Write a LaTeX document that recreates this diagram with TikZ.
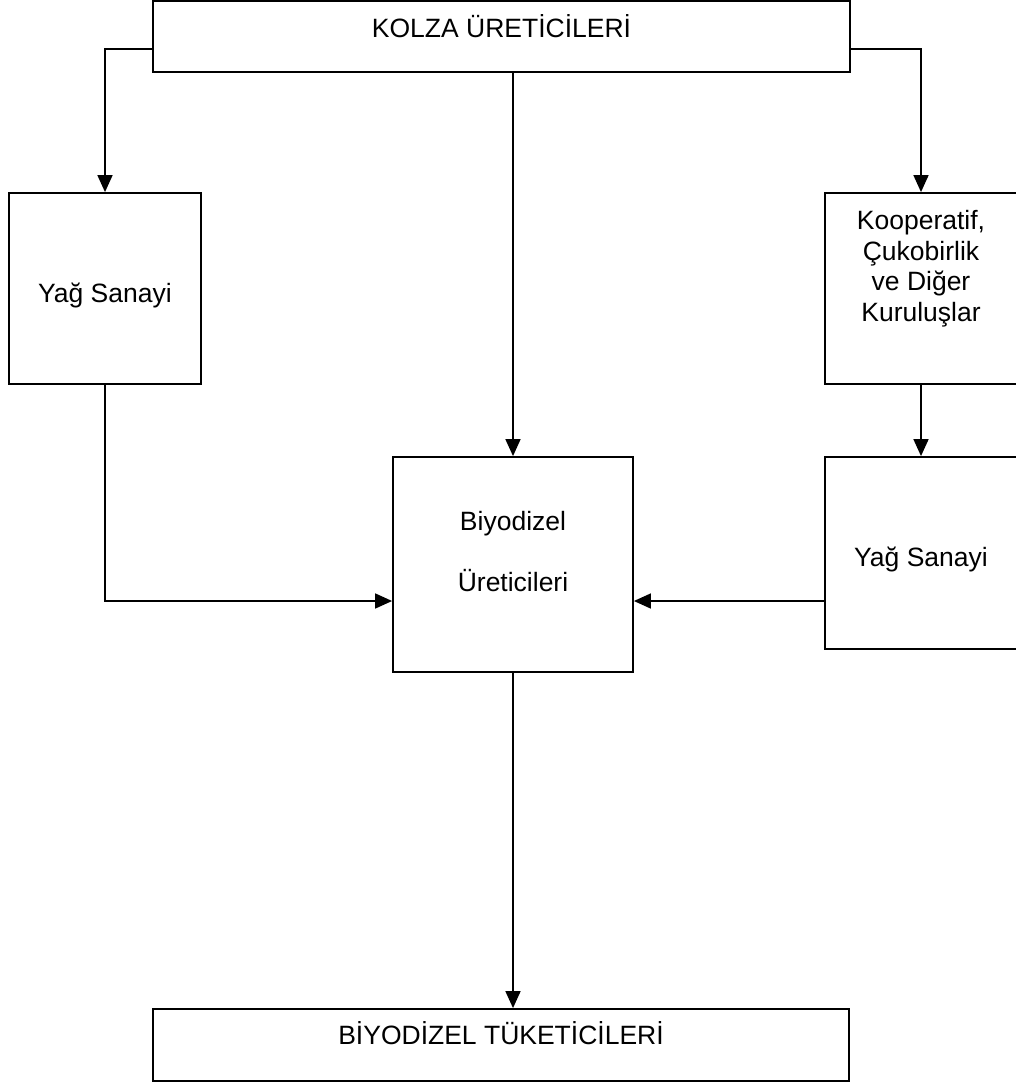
\documentclass[tikz,border=0pt]{standalone}
\usepackage{fontspec}
\setmainfont{Liberation Sans}
\usetikzlibrary{arrows.meta}
\begin{document}
\begin{tikzpicture}[x=1pt, y=-1pt,
        box/.style={draw, line width=1.8pt, inner sep=0pt, align=center,
            font=\fontsize{26.5}{30.5}\selectfont, text height=19pt},
        flow/.style={line width=1.6pt, -{Triangle[length=17pt,width=15pt]}}]
        \useasboundingbox (0, 0) rectangle (1016, 1083);
        \node[box, minimum width=697pt, minimum height=71pt, text depth=17pt] (kolza) at (501.5, 36.5) {KOLZA ÜRETİCİLERİ};
        \node[box, minimum width=192pt, minimum height=191pt, text height=28pt, text depth=0pt] (leftoil) at (105, 288.5) {Yağ Sanayi};
        \node[box, minimum width=192pt, minimum height=191pt, text height=65pt, text depth=0pt] (coop) at (921, 288.5) {Kooperatif,\\Çukobirlik\\ve Diğer\\Kuruluşlar};
        \node[box, minimum width=240pt, minimum height=215pt, text height=54pt, text depth=0pt] (producers) at (513, 564.5) {Biyodizel\\[30.5pt]Üreticileri};
        \node[box, minimum width=192pt, minimum height=192pt, text height=27pt, text depth=0pt] (rightoil) at (921, 553) {Yağ Sanayi};
        \node[box, minimum width=696pt, minimum height=72pt, text depth=20pt] (consumers) at (501, 1045) {BİYODİZEL TÜKETİCİLERİ};
        \coordinate (join) at ([yshift=-36.5pt]producers.center);
        \draw[flow] ([yshift=-12.5pt]kolza.west) -| (leftoil.north);
        \draw[flow] ([yshift=-12.5pt]kolza.east) -| (coop.north);
        \draw[flow] (producers.north |- kolza.south) -- (producers.north);
        \draw[flow] (coop.south) -- (rightoil.north);
        \draw[flow] (leftoil.south) |- (producers.west |- join);
        \draw[flow] (rightoil.west |- join) -- (producers.east |- join);
        \draw[flow] (producers.south) -- (producers.south |- consumers.north);
    \end{tikzpicture}
\end{document}
